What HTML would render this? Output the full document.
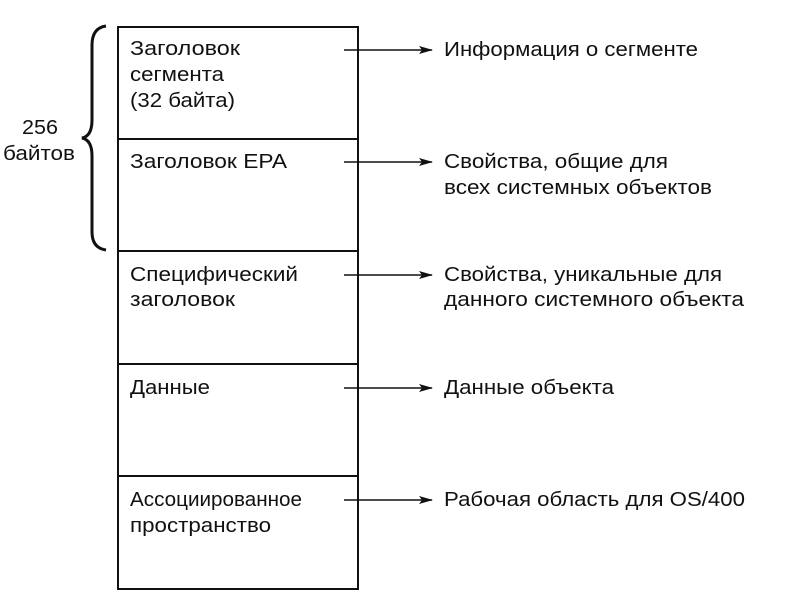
<!DOCTYPE html>
<html><head><meta charset="utf-8"><style>
body{margin:0;width:795px;height:596px;background:#fff;overflow:hidden}
svg text{font-family:"Liberation Sans",Arial,sans-serif;font-size:20px;fill:#111}
</style></head><body>
<svg width="795" height="596" viewBox="0 0 795 596">
<defs><marker id="a" markerWidth="14" markerHeight="8" refX="13" refY="4" orient="auto" markerUnits="userSpaceOnUse"><path d="M0,0 L14,4 L0,8 L3,4 Z" fill="#111"/></marker></defs>
<g stroke="#111" stroke-width="2" fill="none">
<rect x="118" y="27" width="240" height="562"/>
<line x1="118" y1="139" x2="358" y2="139"/>
<line x1="118" y1="251" x2="358" y2="251"/>
<line x1="118" y1="364" x2="358" y2="364"/>
<line x1="118" y1="476" x2="358" y2="476"/>
</g>
<g stroke="#111" stroke-width="1.6" marker-end="url(#a)">
<line x1="344" y1="50" x2="432" y2="50"/>
<line x1="344" y1="162" x2="432" y2="162"/>
<line x1="344" y1="275" x2="432" y2="275"/>
<line x1="344" y1="388" x2="432" y2="388"/>
<line x1="344" y1="500" x2="432" y2="500"/>
</g>
<path d="M106,26 Q92,28 92,45 L92,120 Q92,136 82,138 Q92,140 92,156 L92,232 Q92,248 106,250" stroke="#111" stroke-width="3" fill="none"/>
<g style="font-size:19px">
<text x="22" y="134" textLength="36" lengthAdjust="spacingAndGlyphs">256</text>
<text x="3" y="160" textLength="72" lengthAdjust="spacingAndGlyphs">байтов</text>
<text x="130" y="55" textLength="110" lengthAdjust="spacingAndGlyphs">Заголовок</text>
<text x="130" y="81" textLength="94" lengthAdjust="spacingAndGlyphs">сегмента</text>
<text x="130" y="107" textLength="105" lengthAdjust="spacingAndGlyphs">(32 байта)</text>
<text x="130" y="168" textLength="157" lengthAdjust="spacingAndGlyphs">Заголовок EPA</text>
<text x="130" y="281" textLength="168" lengthAdjust="spacingAndGlyphs">Специфический</text>
<text x="130" y="306" textLength="105" lengthAdjust="spacingAndGlyphs">заголовок</text>
<text x="130" y="394" textLength="80" lengthAdjust="spacingAndGlyphs">Данные</text>
<text x="130" y="506" textLength="172" lengthAdjust="spacingAndGlyphs">Ассоциированное</text>
<text x="130" y="532" textLength="141" lengthAdjust="spacingAndGlyphs">пространство</text>
<text x="444" y="56" textLength="254" lengthAdjust="spacingAndGlyphs">Информация о сегменте</text>
<text x="444" y="168" textLength="224" lengthAdjust="spacingAndGlyphs">Свойства, общие для</text>
<text x="444" y="194" textLength="268" lengthAdjust="spacingAndGlyphs">всех системных объектов</text>
<text x="444" y="281" textLength="278" lengthAdjust="spacingAndGlyphs">Свойства, уникальные для</text>
<text x="444" y="306" textLength="300" lengthAdjust="spacingAndGlyphs">данного системного объекта</text>
<text x="444" y="394" textLength="170" lengthAdjust="spacingAndGlyphs">Данные объекта</text>
<text x="444" y="506" textLength="301" lengthAdjust="spacingAndGlyphs">Рабочая область для OS/400</text>
</g>
</svg>
</body></html>
